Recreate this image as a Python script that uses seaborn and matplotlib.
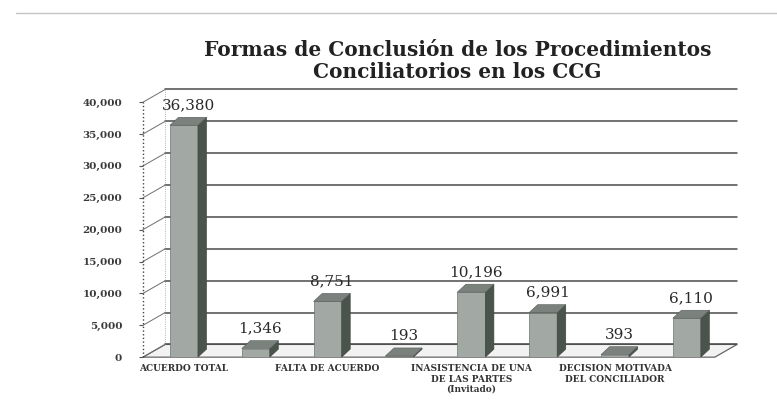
import matplotlib
matplotlib.use("Agg")
import matplotlib.pyplot as plt
from matplotlib.patches import Polygon
from matplotlib.lines import Line2D
from matplotlib.ticker import FuncFormatter
import seaborn as sns
import pandas as pd

# data
categories = [
    "ACUERDO TOTAL",
    "(sin etiqueta 1)",
    "FALTA DE ACUERDO",
    "(sin etiqueta 2)",
    "INASISTENCIA DE UNA DE LAS PARTES (Invitado)",
    "(sin etiqueta 3)",
    "DECISION MOTIVADA DEL CONCILIADOR",
    "(sin etiqueta 4)",
]
values = [36380, 1346, 8751, 193, 10196, 6991, 393, 6110]
tick_labels = [
    "ACUERDO TOTAL", "",
    "FALTA DE ACUERDO", "",
    "INASISTENCIA DE UNA\nDE LAS PARTES\n(Invitado)", "",
    "DECISION MOTIVADA\nDEL CONCILIADOR", "",
]
y_ticks = [0, 5000, 10000, 15000, 20000, 25000, 30000, 35000, 40000]


def make_chart():
    sns.set_style("white")
    plt.rcParams['font.family'] = ['DejaVu Serif', 'DejaVu Sans']

    df = pd.DataFrame({'forma': categories, 'total': values})

    fig = plt.figure(figsize=(7.77, 4.11), dpi=100)
    ax = fig.add_axes([0.184, 0.131, 0.736, 0.6204])

    xmin, xmax = -0.57, 7.39
    ymax = y_ticks[-1]
    # depth of the fake 3d wall and of the bars (data units)
    wall_dx, wall_dy = 0.31, 2000
    bar_dx, bar_dy = 0.12, 1250

    sns.barplot(data=df, x='forma', y='total', order=categories, width=0.39,
                color='#a2a8a3', saturation=1, edgecolor='#6d736e', linewidth=0.5,
                ax=ax, zorder=3)
    bars = list(ax.patches)

    # floor
    floor = Polygon([(xmin, 0), (xmax, 0), (xmax + wall_dx, wall_dy), (xmin + wall_dx, wall_dy)],
                    closed=True, facecolor='#f2f2f2', edgecolor='#666666', lw=0.9,
                    zorder=1, clip_on=False)
    ax.add_patch(floor)

    # back wall gridlines and the diagonal links to the front axis
    for t in y_ticks:
        ax.plot([xmin + wall_dx, xmax + wall_dx], [t + wall_dy, t + wall_dy],
                color='#4a4a4a', lw=1.1, zorder=1, clip_on=False)
        ax.plot([xmin, xmin + wall_dx], [t, t + wall_dy],
                color='#6f6f6f', lw=0.7, zorder=1, clip_on=False)
    ax.plot([xmin + wall_dx, xmin + wall_dx], [wall_dy, ymax + wall_dy],
            color='#999999', lw=0.6, ls=':', zorder=1, clip_on=False)
    ax.plot([xmin, xmin], [0, ymax], color='#444444', lw=1.0, ls=':', zorder=2, clip_on=False)

    for p, v in zip(bars, values):
        x0, w, h = p.get_x(), p.get_width(), p.get_height()
        side = Polygon([(x0 + w, 0), (x0 + w + bar_dx, bar_dy), (x0 + w + bar_dx, h + bar_dy), (x0 + w, h)],
                       closed=True, facecolor='#4a544d', edgecolor='#3d453f', lw=0.4, zorder=3)
        top = Polygon([(x0, h), (x0 + bar_dx, h + bar_dy), (x0 + w + bar_dx, h + bar_dy), (x0 + w, h)],
                      closed=True, facecolor='#7b827d', edgecolor='#555c57', lw=0.4, zorder=3)
        ax.add_patch(side)
        ax.add_patch(top)
        ax.text(x0 + (w + bar_dx) / 2, h + bar_dy + 800, f"{v:,}", ha='center', va='bottom',
                fontsize=11, color='#2a2a2a', zorder=4)

    ax.set_xlim(xmin, xmax)
    ax.set_ylim(0, ymax)
    ax.set_yticks(y_ticks)
    ax.yaxis.set_major_formatter(FuncFormatter(lambda v, pos: f"{int(v):,}"))
    ax.set_xticks(range(len(categories)))
    ax.set_xticklabels(tick_labels, fontsize=6.5, fontweight='bold', color='#333333',
                       linespacing=1.2)
    ax.tick_params(axis='x', length=0, pad=5)
    ax.tick_params(axis='y', length=3, width=0.8, color='#555555', pad=12,
                   labelsize=7.5, labelcolor='#3a3a3a', left=True)
    for lab in ax.get_yticklabels():
        lab.set_fontweight('bold')
    ax.set_xlabel('')
    ax.set_ylabel('')
    for s in ax.spines.values():
        s.set_visible(False)

    fig.text(0.589, 0.852, "Formas de Conclusión de los Procedimientos\nConciliatorios en los CCG",
             ha='center', va='center', fontsize=14.5, fontweight='bold', color='#222222',
             linespacing=1.1)

    fig.add_artist(Line2D([0.02, 1.0], [0.968, 0.968], transform=fig.transFigure,
                          color='#c4c4c4', lw=1.0))

    fig.savefig('out.png', dpi=100)
    print("Saved 'out.png'")


if __name__ == "__main__":
    make_chart()
